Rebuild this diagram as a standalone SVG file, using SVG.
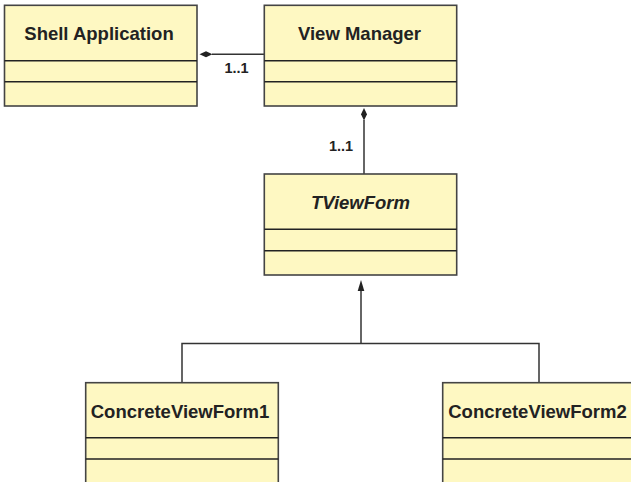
<svg xmlns="http://www.w3.org/2000/svg" width="631" height="482" viewBox="0 0 631 482">
  <defs>
    <style>
      .box { fill: #fef8c2; stroke: #444; stroke-width: 1.6; }
      .div { stroke: #222; stroke-width: 1.5; }
      .name { font-family: "Liberation Sans", Arial, sans-serif; font-weight: bold; font-size: 18.5px; fill: #222; text-anchor: middle; }
      .abstract { font-style: italic; }
      .mult { font-family: "Liberation Sans", Arial, sans-serif; font-weight: bold; font-size: 14.5px; fill: #222; text-anchor: middle; }
      .edge { fill: none; stroke: #333; stroke-width: 1.5; }
    </style>
  </defs>

  <!-- connectors -->
  <g id="connectors">
    <!-- Shell Application <>— View Manager -->
    <line class="edge" x1="264" y1="54.3" x2="212" y2="54.3"/>
    <path d="M199.5,54.3 L206,51.3 L212.5,54.3 L206,57.3 Z" fill="#222"/>
    <text class="mult" x="236.5" y="72.5">1..1</text>
    <!-- View Manager <>— TViewForm -->
    <line class="edge" x1="364" y1="174" x2="364" y2="120"/>
    <path d="M364,108 L367,114.2 L364,120.5 L361,114.2 Z" fill="#222"/>
    <text class="mult" x="341" y="150.5">1..1</text>
    <!-- generalization: concrete forms to TViewForm -->
    <line class="edge" x1="361" y1="343.5" x2="361" y2="288"/>
    <path d="M361,280 L364.3,291 L357.7,291 Z" fill="#222"/>
    <polyline class="edge" points="182,382 182,343.5 539,343.5 539,382"/>
  </g>

  <g id="shell-application">
    <rect class="box" x="4.5" y="5.3" width="192.5" height="100.7"/>
    <line class="div" x1="4.5" y1="60.7" x2="197" y2="60.7"/>
    <line class="div" x1="4.5" y1="81.8" x2="197" y2="81.8"/>
    <text class="name" x="99" y="39.8">Shell Application</text>
  </g>

  <g id="view-manager">
    <rect class="box" x="264.3" y="5.3" width="192.4" height="100.7"/>
    <line class="div" x1="264.3" y1="60.7" x2="456.7" y2="60.7"/>
    <line class="div" x1="264.3" y1="81.8" x2="456.7" y2="81.8"/>
    <text class="name" x="359.5" y="39.8">View Manager</text>
  </g>

  <g id="tviewform">
    <rect class="box" x="264.3" y="174" width="192.4" height="101"/>
    <line class="div" x1="264.3" y1="229.3" x2="456.7" y2="229.3"/>
    <line class="div" x1="264.3" y1="250.7" x2="456.7" y2="250.7"/>
    <text class="name abstract" x="360.5" y="209.3">TViewForm</text>
  </g>

  <g id="concrete-view-form-1">
    <rect class="box" x="85.7" y="382.7" width="192.6" height="101"/>
    <line class="div" x1="85.7" y1="437.7" x2="278.3" y2="437.7"/>
    <line class="div" x1="85.7" y1="459" x2="278.3" y2="459"/>
    <text class="name" x="180" y="417.8">ConcreteViewForm1</text>
  </g>

  <g id="concrete-view-form-2">
    <rect class="box" x="442.7" y="382.7" width="192.6" height="101"/>
    <line class="div" x1="442.7" y1="437.7" x2="635.3" y2="437.7"/>
    <line class="div" x1="442.7" y1="459" x2="635.3" y2="459"/>
    <text class="name" x="537.5" y="417.8">ConcreteViewForm2</text>
  </g>
</svg>
